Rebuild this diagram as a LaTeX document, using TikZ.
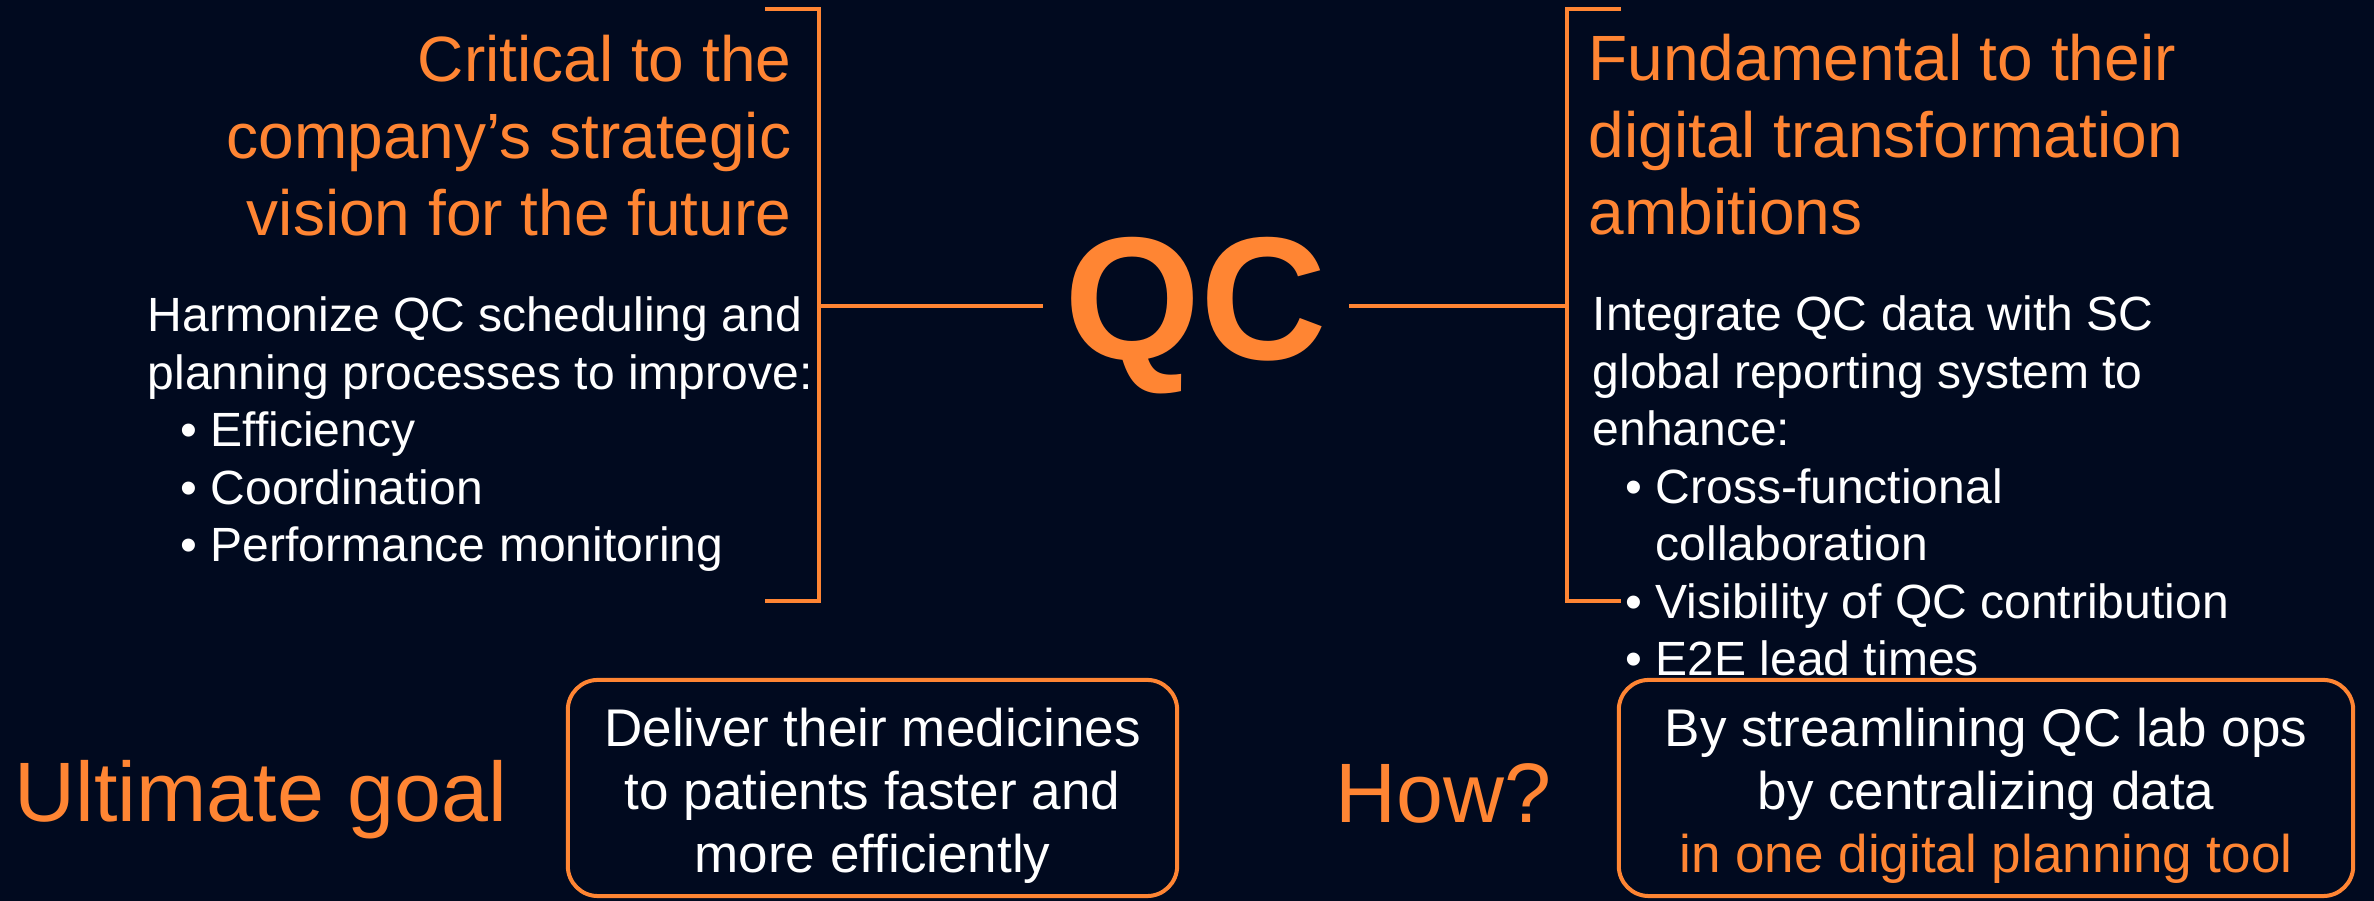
\documentclass[tikz,border=0pt]{standalone}
\usepackage{fontspec}
\setmainfont{Liberation Sans}
\usepackage{xcolor}
\usepackage{tikz}
\usetikzlibrary{positioning,calc}
\definecolor{navy}{HTML}{010A1F}
\definecolor{orange}{HTML}{FF8533}
\newcommand{\qbul}[1]{\hspace*{0.33cm}\makebox[0.30cm][l]{\textbullet}#1}
\newcommand{\qcont}[1]{\hspace*{0.63cm}#1}

\begin{document}
\begin{tikzpicture}[x=0.01cm,y=-0.01cm,
  head/.style={orange,inner sep=0pt,font=\fontsize{18.2}{21.9}\selectfont},
  body/.style={white,inner sep=0pt,align=left,font=\fontsize{13.66}{16.36}\selectfont},
  goal/.style={orange,inner sep=0pt,font=\fontsize{24}{28}\selectfont},
  panel/.style={draw=orange,line width=1.14pt,rounded corners=0.3cm,inner sep=0pt},
  paneltext/.style={white,inner sep=0pt,align=center,font=\fontsize{15.08}{17.93}\selectfont}]
  \fill[navy] (0,0) rectangle (2374,901);
  \useasboundingbox (0,0) rectangle (2374,901);
  % brackets
  \coordinate (LT) at (765,9); \coordinate (LB) at (765,601); \coordinate (LM) at (819,306);
  \coordinate (RT) at (1621,9); \coordinate (RB) at (1621,601); \coordinate (RM) at (1567,306);
  \draw[orange,line width=0.9pt] (LT) -- (LT -| LM) -- (LB -| LM) -- (LB);
  \draw[orange,line width=0.9pt] (RT) -- (RT -| RM) -- (RB -| RM) -- (RB);
  % centre
  \node[orange,anchor=base west,inner xsep=0.21cm,inner ysep=0pt,
    font=\fontsize{49.8}{55}\selectfont\bfseries] (QC) at (1043,360) {QC};
  \draw[orange,line width=0.9pt] (LM) -- (LM -| QC.west);
  \draw[orange,line width=0.9pt] (RM) -- (RM -| QC.east);
  % left side (anchored on the last line)
  \node[head,anchor=base east,align=right] (crit) at (792,236)
    {Critical to the\\company’s strategic\\vision for the future};
  \node[body,anchor=base west] (harm) at (147,562)
    {Harmonize QC scheduling and\\planning processes to improve:\\
     \qbul{Efficiency}\\\qbul{Coordination}\\\qbul{Performance monitoring}};
  % right side
  \node[head,anchor=base west,align=left] (fund) at (1588,235)
    {Fundamental to their\\digital transformation\\ambitions};
  \node[body,anchor=base west] (integ) at (1592,676)
    {Integrate QC data with SC\\global reporting system to\\enhance:\\
     \qbul{Cross-functional}\\\qcont{collaboration}\\
     \qbul{Visibility of QC contribution}\\\qbul{E2E lead times}};
  % bottom row
  \node[goal,anchor=base west] (ult) at (14,822) {Ultimate goal};
  \node[panel,minimum width=6.09cm,minimum height=2.16cm] (box1) at (872.5,788) {};
  \node[paneltext,anchor=base] (deliv) at (872.5,873)
    {Deliver their medicines\\to patients faster and\\more efficiently};
  \node[goal,anchor=base west] (how) at (1335,823) {How?};
  \node[panel,minimum width=7.34cm,minimum height=2.16cm] (box2) at (1986,788) {};
  \node[paneltext,anchor=base] (strm) at (1986,873)
    {By streamlining QC lab ops\\by centralizing data\\\textcolor{orange}{in one digital planning tool}};
\end{tikzpicture}
\end{document}
